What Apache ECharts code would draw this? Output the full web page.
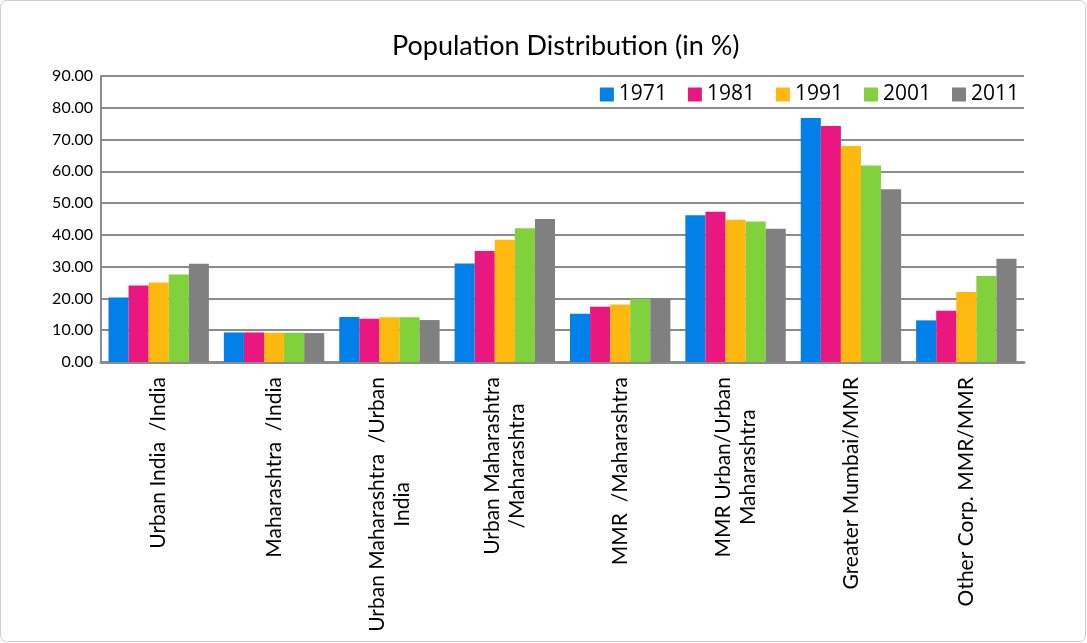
<!DOCTYPE html>
<html><head><meta charset="utf-8">
<script src="https://cdn.jsdelivr.net/npm/echarts@6/dist/echarts.min.js"></script>
<style>html,body{margin:0;padding:0;background:#fff}#c{width:1087px;height:643px}</style>
</head><body><div id="c"></div>
<script>
const categories = ["Urban India  /India", "Maharashtra  /India", "Urban Maharashtra  /Urban\nIndia", "Urban Maharashtra\n/Maharashtra", "MMR  /Maharashtra", "MMR Urban/Urban\nMaharashtra", "Greater Mumbai/MMR", "Other Corp. MMR/MMR"];
const years = ["1971", "1981", "1991", "2001", "2011"];
const v1971 = [20.3, 9.3, 14.2, 31.0, 15.2, 46.2, 76.8, 13.1];
const v1981 = [24.1, 9.3, 13.6, 34.9, 17.4, 47.3, 74.3, 16.1];
const v1991 = [25.0, 9.2, 14.1, 38.5, 18.1, 44.8, 68.0, 22.0];
const v2001 = [27.5, 9.2, 14.1, 42.1, 19.8, 44.2, 61.8, 27.1];
const v2011 = [30.9, 9.1, 13.2, 45.0, 20.1, 41.9, 54.4, 32.5];
const colors = ["#0080E8", "#EA1780", "#FFB80D", "#80D13B", "#808080"];
const seriesData = [v1971, v1981, v1991, v2001, v2011];
const font = "Lato, 'Open Sans', sans-serif";
const chart = echarts.init(document.getElementById('c'));
chart.setOption({
  animation: false,
  color: colors,
  title: {text: "Population Distribution (in %)", left: 387, top: 28,
    textStyle: {fontFamily: font, fontSize: 27, fontWeight: 'normal', color: '#000'}},
  legend: {right: 63, top: 79, itemWidth: 14, itemHeight: 14, itemGap: 21, icon: 'rect',
    textStyle: {fontFamily: "'Open Sans', sans-serif", fontSize: 21, color: '#000', padding: [0,0,0,0]},
    data: years},
  grid: {left: 101, right: 63, top: 76, bottom: 281, containLabel: false},
  xAxis: {type: 'category', data: categories,
    axisLine: {lineStyle: {color: '#8c8c8c', width: 3}},
    axisTick: {show: false},
    axisLabel: {interval: 0, rotate: 90, margin: 15, color: '#000', fontFamily: font, fontSize: 21, lineHeight: 25,
      formatter: v => v.split('\n').map(l => '{c|' + l + '}').join('\n'),
      rich: {c: {align: 'center', fontFamily: font, fontSize: 21, lineHeight: 25, color: '#000'}}}},
  yAxis: {type: 'value', min: 0, max: 90, interval: 10,
    axisLine: {show: true, lineStyle: {color: '#8c8c8c', width: 2}},
    axisTick: {show: false},
    splitLine: {lineStyle: {color: '#8c8c8c', width: 2}},
    axisLabel: {margin: 8, color: '#000', fontFamily: font, fontSize: 16, formatter: v => v.toFixed(2)}},
  graphic: [{type: 'rect', shape: {x: 0.5, y: 0.5, width: 1085, height: 641, r: 6}, silent: true,
    style: {fill: 'none', stroke: '#d0d0d0', lineWidth: 1}}],
  series: years.map((y, i) => ({name: y, type: 'bar', data: seriesData[i], barGap: '0%', barCategoryGap: '13%',
    itemStyle: {color: colors[i]}}))
});
</script></body></html>
